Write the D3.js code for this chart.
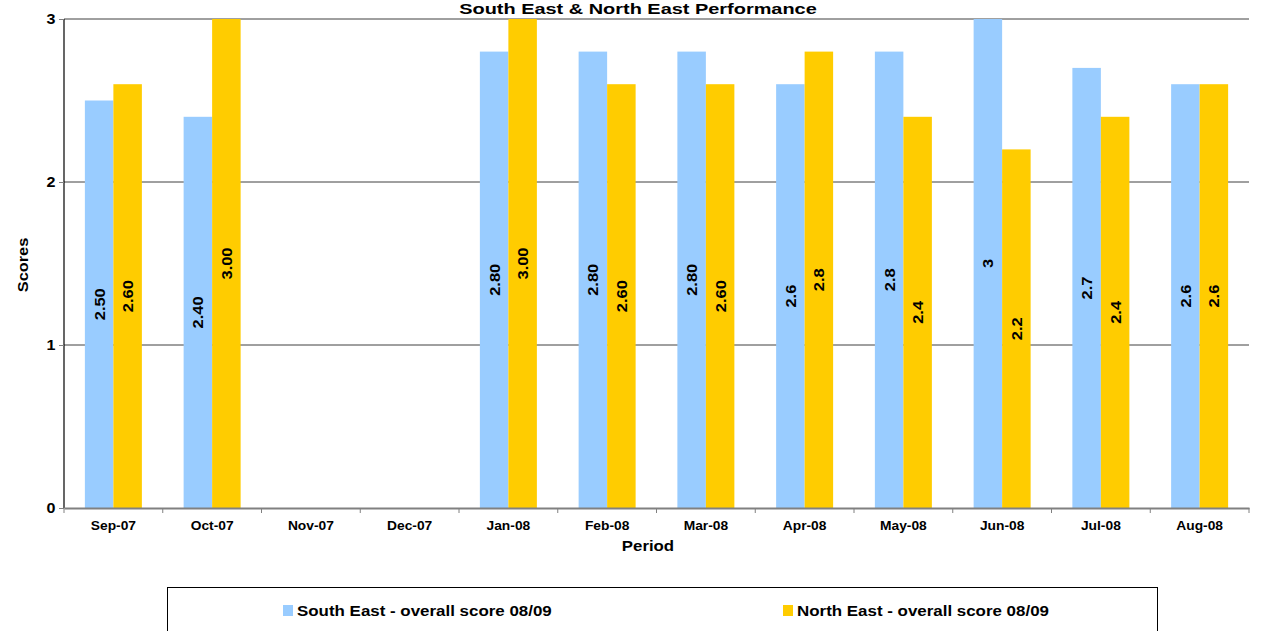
<!DOCTYPE html>
<html>
<head>
<meta charset="utf-8">
<script src="https://cdn.jsdelivr.net/npm/d3@7"></script>
<style>
  html, body { margin: 0; padding: 0; background: #fff; }
  svg { display: block; font-family: Arial, "Liberation Sans", sans-serif; }
</style>
</head>
<body>
<svg id="chart" width="1271" height="631"></svg>
<script>
// Monthly periods and scores for the two regions
const periods = ["Sep-07", "Oct-07", "Nov-07", "Dec-07", "Jan-08", "Feb-08", "Mar-08", "Apr-08", "May-08", "Jun-08", "Jul-08", "Aug-08"];
const southEast = [2.5, 2.4, null, null, 2.8, 2.8, 2.8, 2.6, 2.8, 3, 2.7, 2.6];
const northEast = [2.6, 3.0, null, null, 3.0, 2.6, 2.6, 2.8, 2.4, 2.2, 2.4, 2.6];
const southEastLabels = ["2.50", "2.40", "", "", "2.80", "2.80", "2.80", "2.6", "2.8", "3", "2.7", "2.6"];
const northEastLabels = ["2.60", "3.00", "", "", "3.00", "2.60", "2.60", "2.8", "2.4", "2.2", "2.4", "2.6"];
const seriesNames = ["South East - overall score 08/09", "North East - overall score 08/09"];
const seriesColors = ["#99CCFF", "#FFCC00"];
const yTicks = [0, 1, 2, 3];

const FONT = "Arial, 'Liberation Sans', sans-serif";
const svg = d3.select("#chart");
const plot = { left: 64, right: 1249, top: 19, bottom: 508 };

const x = d3.scaleBand().domain(periods).range([plot.left, plot.right]).paddingInner(0).paddingOuter(0);
const groupWidth = 57;
const xs = d3.scaleBand().domain([0, 1]).range([0, groupWidth]);
const y = d3.scaleLinear().domain([0, 3]).range([plot.bottom, plot.top]);

// Text helper: bold text at (tx, ty), rotated and widened along its reading direction
function label(parent, tx, ty, str, size, opts = {}) {
  const g = parent.append("g")
    .attr("transform", `translate(${tx},${ty}) rotate(${opts.rotate || 0}) scale(${opts.stretch || 1},1)`);
  return g.append("text")
    .attr("text-anchor", opts.anchor || "middle")
    .attr("dy", opts.dy || 0)
    .attr("font-size", size)
    .attr("font-weight", "bold")
    .attr("font-family", FONT)
    .attr("fill", "#000")
    .text(str);
}

// Horizontal gridlines
svg.append("g").selectAll("line")
  .data(yTicks.filter(d => d > 0))
  .join("line")
  .attr("x1", plot.left).attr("x2", plot.right)
  .attr("y1", d => y(d)).attr("y2", d => y(d))
  .attr("stroke", "#404040").attr("stroke-width", 1);

// Bars
const series = [southEast, northEast];
const labels = [southEastLabels, northEastLabels];
const rows = [];
periods.forEach((p, i) => {
  series.forEach((s, k) => {
    if (s[i] != null) rows.push({ period: p, k, value: s[i], label: labels[k][i] });
  });
});

const barX = d => x(d.period) + (x.bandwidth() - groupWidth) / 2 + xs(d.k);

svg.append("g").selectAll("rect")
  .data(rows)
  .join("rect")
  .attr("x", barX)
  .attr("y", d => y(d.value))
  .attr("width", xs.bandwidth())
  .attr("height", d => y(0) - y(d.value))
  .attr("fill", d => seriesColors[d.k]);

// Value labels, rotated, centred in each bar
const valueLayer = svg.append("g");
rows.forEach(d => {
  label(valueLayer, barX(d) + xs.bandwidth() / 2 + 5.5, (y(d.value) + y(0)) / 2, d.label, 15,
    { rotate: -90, stretch: 1.1 });
});

// Y axis
const yAxis = svg.append("g").attr("transform", `translate(${plot.left},0)`)
  .call(d3.axisLeft(y).tickValues(yTicks).tickFormat(d3.format("d")).tickSize(5).tickPadding(8));
yAxis.select(".domain").attr("stroke", "#000").attr("stroke-width", 1.2).attr("d", `M0,${plot.top}V${plot.bottom}`);
yAxis.selectAll(".tick line").attr("stroke", "#808080");
yAxis.selectAll(".tick text").attr("font-size", 14).attr("font-weight", "bold").attr("fill", "#000")
  .attr("font-family", FONT).attr("transform", "translate(-13,0) scale(1.15,1)").attr("x", 0)
  .attr("text-anchor", "middle");

// X axis
const xAxis = svg.append("g").attr("transform", `translate(0,${plot.bottom})`)
  .call(d3.axisBottom(x).tickSize(0).tickFormat(""));
xAxis.select(".domain").attr("stroke", "#808080").attr("stroke-width", 2);
xAxis.selectAll(".tick").each(function (p) {
  label(d3.select(this), 0, 22, p, 12, { stretch: 1.15 });
});
// Category boundary tick marks
xAxis.append("g").selectAll("line")
  .data(d3.range(periods.length + 1))
  .join("line")
  .attr("x1", i => plot.left + i * x.step()).attr("x2", i => plot.left + i * x.step())
  .attr("y1", 0).attr("y2", 5)
  .attr("stroke", "#808080");

// Titles
label(svg, 638, 14, "South East & North East Performance", 15, { stretch: 1.33 });
label(svg, 648, 551, "Period", 14, { stretch: 1.2 });
label(svg, 28, 265, "Scores", 14, { rotate: -90, stretch: 1.17 });

// Legend
const legend = svg.append("g");
legend.append("rect").attr("x", 167.5).attr("y", 587.5).attr("width", 990).attr("height", 60)
  .attr("fill", "#fff").attr("stroke", "#000").attr("stroke-width", 1);
const legendX = [283, 783];
seriesNames.forEach((name, k) => {
  legend.append("rect").attr("x", legendX[k]).attr("y", 605).attr("width", 10).attr("height", 11)
    .attr("fill", seriesColors[k]);
  label(legend, legendX[k] + 14, 616, name, 14, { anchor: "start", stretch: 1.21 });
});
</script>
</body>
</html>
